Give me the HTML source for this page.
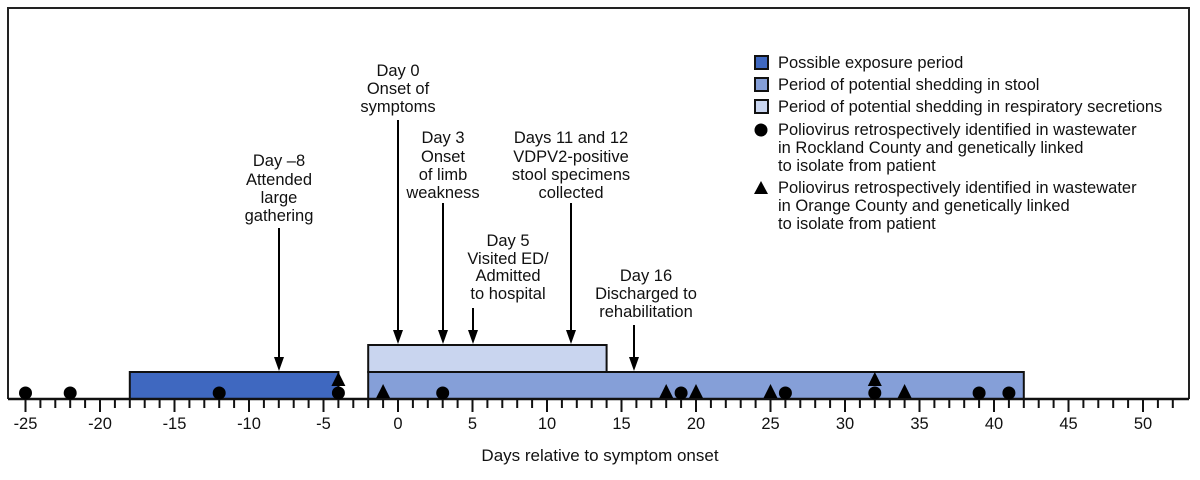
<!DOCTYPE html>
<html><head><meta charset="utf-8"><style>
html,body{margin:0;padding:0;background:#fff}
svg{display:block}
text{font-family:"Liberation Sans",sans-serif;font-size:16.5px;fill:#111}
</style></head><body>
<svg width="1200" height="480" viewBox="0 0 1200 480" xmlns="http://www.w3.org/2000/svg">
<polyline points="8,399 8,8 1189,8 1189,399" fill="none" stroke="#222" stroke-width="2"/>
<g id="boxes"></g>
<line x1="8" y1="399" x2="1189" y2="399" stroke="#111" stroke-width="2.5"/>
<g stroke="#111" stroke-width="2" id="ticks"></g>
<g id="labels" text-anchor="middle" style="font-size:15px"></g>
<text x="600" y="461" text-anchor="middle" style="font-size:17px">Days relative to symptom onset</text>
<g id="mk" fill="#000"></g>
<g id="arr" stroke="#000" stroke-width="2" fill="#000"></g>
<g text-anchor="middle">
<text x="279" y="166">Day –8</text><text x="279" y="185">Attended</text><text x="279" y="203">large</text><text x="279" y="221">gathering</text>
<text x="398" y="76">Day 0</text><text x="398" y="94">Onset of</text><text x="398" y="112">symptoms</text>
<text x="443" y="143">Day 3</text><text x="443" y="162">Onset</text><text x="443" y="180">of limb</text><text x="443" y="198">weakness</text>
<text x="571" y="143">Days 11 and 12</text><text x="571" y="162">VDPV2-positive</text><text x="571" y="180">stool specimens</text><text x="571" y="198">collected</text>
<text x="508" y="246">Day 5</text><text x="508" y="264">Visited ED/</text><text x="508" y="281">Admitted</text><text x="508" y="299">to hospital</text>
<text x="646" y="281">Day 16</text><text x="646" y="299">Discharged to</text><text x="646" y="317">rehabilitation</text>
</g>
<rect x="755" y="56" width="13" height="13" fill="#3f68c0" stroke="#111" stroke-width="2"/>
<rect x="755" y="78" width="13" height="13" fill="#859fd8" stroke="#111" stroke-width="2"/>
<rect x="755" y="100" width="13" height="13" fill="#c9d5ef" stroke="#111" stroke-width="2"/>
<circle cx="761" cy="130" r="6.5" fill="#000"/>
<path d="M754,194 L768,194 L761,181 Z" fill="#000"/>
<text x="778" y="68">Possible exposure period</text>
<text x="778" y="90">Period of potential shedding in stool</text>
<text x="778" y="112">Period of potential shedding in respiratory secretions</text>
<text x="778" y="135">Poliovirus retrospectively identified in wastewater</text>
<text x="778" y="153">in Rockland County and genetically linked</text>
<text x="778" y="171">to isolate from patient</text>
<text x="778" y="193">Poliovirus retrospectively identified in wastewater</text>
<text x="778" y="211">in Orange County and genetically linked</text>
<text x="778" y="229">to isolate from patient</text>
</svg>
<script>
var ns="http://www.w3.org/2000/svg";
function X(d){return 398+14.9*d;}
function el(p,n,a){var e=document.createElementNS(ns,n);for(var k in a)e.setAttribute(k,a[k]);p.appendChild(e);return e;}
var b=document.getElementById("boxes");
el(b,"rect",{x:X(-18),y:372,width:X(-4)-X(-18),height:27,fill:"#3f68c0",stroke:"#111","stroke-width":2});
el(b,"rect",{x:X(-2),y:345,width:X(14)-X(-2),height:27,fill:"#c9d5ef",stroke:"#111","stroke-width":2});
el(b,"rect",{x:X(-2),y:372,width:X(42)-X(-2),height:27,fill:"#859fd8",stroke:"#111","stroke-width":2});
var t=document.getElementById("ticks"),l=document.getElementById("labels"),m=document.getElementById("mk"),ar=document.getElementById("arr");
for(var d=-25;d<=52;d++){el(t,"line",{x1:X(d),x2:X(d),y1:399,y2:d%5==0?412:408});
if(d%5==0&&d<=50){var s=el(l,"text",{x:X(d),y:429});s.textContent=d;}}
[-25,-22,-12,-4,3,19,26,32,39,41].forEach(function(d){el(m,"circle",{cx:X(d),cy:393,r:6.5});});
function tri(d,y){var x=X(d);el(m,"path",{d:"M"+(x-7)+","+y+" L"+(x+7)+","+y+" L"+x+","+(y-14)+" Z"});}
[-1,18,20,25,34].forEach(function(d){tri(d,398);});
tri(-4,386);tri(32,386);
function arrow(x,y1,y2){el(ar,"line",{x1:x,y1:y1,x2:x,y2:y2-12});el(ar,"path",{d:"M"+(x-5)+","+(y2-14)+" L"+(x+5)+","+(y2-14)+" L"+x+","+y2+" Z",stroke:"none"});}
arrow(279,228,371);arrow(398,120,344);arrow(443,203,344);arrow(473,308,344);arrow(571,203,344);arrow(634,325,371);
</script>
</body></html>
